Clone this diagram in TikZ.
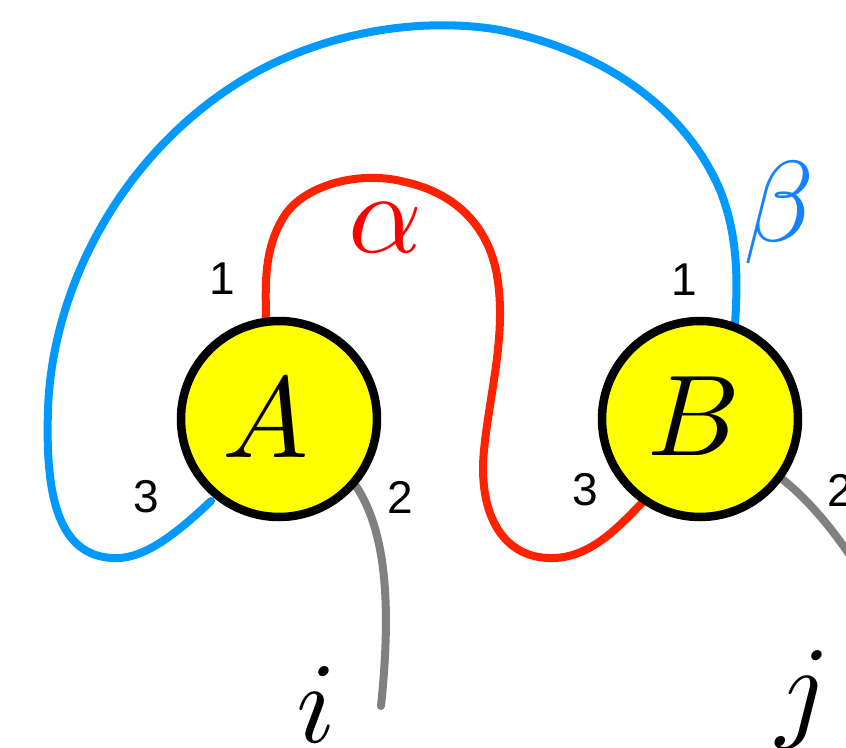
\documentclass[tikz,border=0pt]{standalone}
\usepackage{fontspec}
\newfontfamily\digitfont{Liberation Sans}
\definecolor{myblue}{RGB}{0,153,255}
\definecolor{myred}{RGB}{255,34,0}
\definecolor{mygray}{RGB}{128,128,128}
\definecolor{myyellow}{RGB}{255,255,0}
\definecolor{alphared}{RGB}{255,0,0}
\definecolor{betablue}{RGB}{20,130,255}
\newcommand{\hugemath}[1]{\scalebox{11.5}{$#1$}}
\begin{document}
\begin{tikzpicture}[x=1pt,y=-1pt,
  tensor/.style={circle,draw=black,fill=myyellow,line width=8.5pt,minimum size=196pt,inner sep=0pt},
  leg/.style={line width=8pt,line cap=round},
  num/.style={font=\digitfont\fontsize{46}{46}\selectfont,inner sep=0pt},
  idx/.style={inner sep=0pt}]
\useasboundingbox (0,0) rectangle (846,747);
% legs first
\coordinate (a3) at (211,501);
\coordinate (a1) at (266,322);
\coordinate (a2) at (356,486);
\coordinate (b1) at (735,325);
\coordinate (b3) at (642,503);
\coordinate (b2) at (781,478);
\coordinate (iend) at (381,706);
\coordinate (jend) at (860,570);
\draw[leg,myblue] (a3) .. controls (170,540) and (140,560) .. (112,558)
  .. controls (60,555) and (45,500) .. (48,410)
  .. controls (52,280) and (130,140) .. (260,70)
  .. controls (340,28) and (430,18) .. (500,30)
  .. controls (620,55) and (690,120) .. (720,190)
  .. controls (740,240) and (737,290) .. (b1);
\draw[leg,myred] (a1) .. controls (266,290) and (262,250) .. (285,215)
  .. controls (305,185) and (360,170) .. (405,182)
  .. controls (450,192) and (485,220) .. (496,270)
  .. controls (508,330) and (490,390) .. (484,450)
  .. controls (478,510) and (500,556) .. (548,558)
  .. controls (590,560) and (620,525) .. (b3);
\draw[leg,mygray] (a2) .. controls (385,530) and (392,600) .. (iend);
\draw[leg,mygray] (b2) .. controls (815,505) and (840,540) .. (jend);
\node[tensor] (A) at (279,419) {};
\node[tensor] (B) at (700,419) {};
\node[idx] (Alab) at (266,418) {\hugemath{A}};
\node[idx] (Blab) at (694,416) {\hugemath{B}};
\node[num] (nA1) at (222,279) {1};
\node[num] (nA3) at (146,497) {3};
\node[num] (nA2) at (400,497) {2};
\node[num] (nB1) at (684,280) {1};
\node[num] (nB3) at (585,490) {3};
\node[num] (nB2) at (840,490) {2};
\node[idx] (ii) at (316,705) {\hugemath{i}};
\node[idx] (jj) at (803,700) {\hugemath{j}};
\node[idx,text=alphared] (al) at (385,228) {\hugemath{\alpha}};
\node[idx,text=betablue] (be) at (779,213) {\hugemath{\beta}};
\end{tikzpicture}
\end{document}
